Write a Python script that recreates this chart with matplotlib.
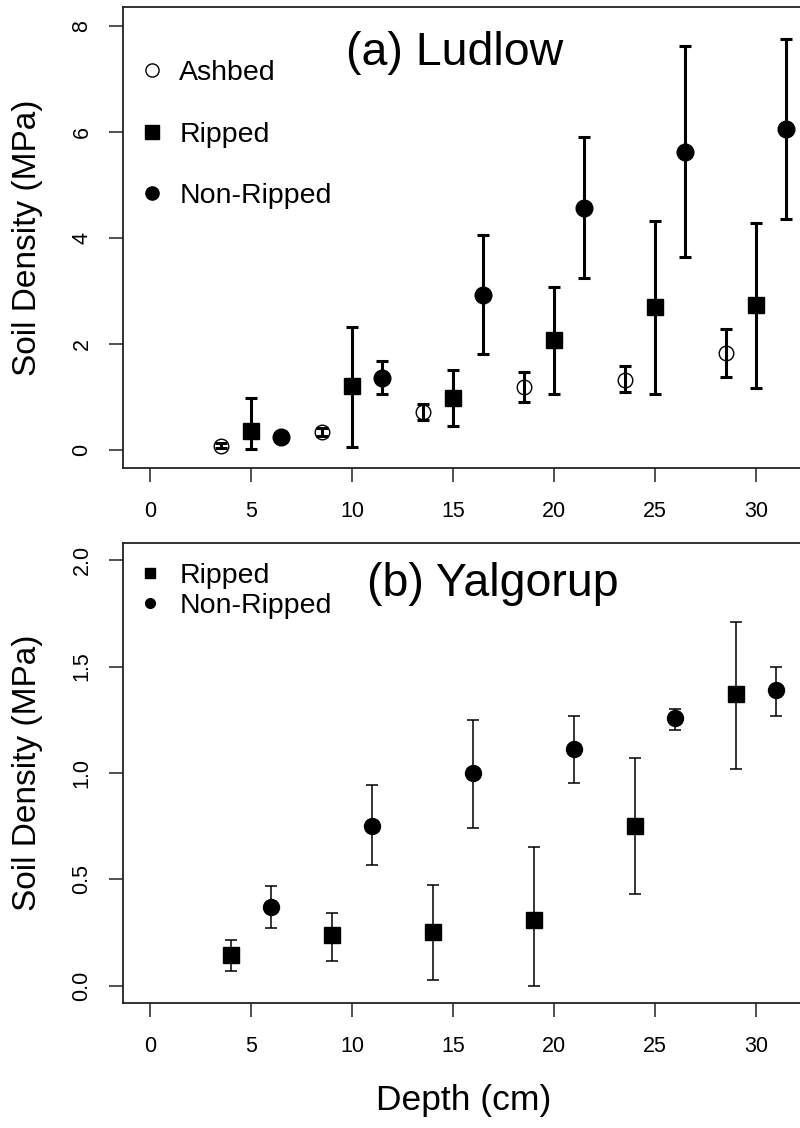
import matplotlib

matplotlib.use("Agg")
import matplotlib.pyplot as plt
import numpy as np
from matplotlib.lines import Line2D
from matplotlib.ticker import FormatStrFormatter

plt.rcParams["font.family"] = ["Liberation Sans", "DejaVu Sans"]

# ----- data -------------------------------------------------------------
# (a) Ludlow
ash_x = [3.5, 8.5, 13.5, 18.5, 23.5, 28.5]
ash_y = [0.08, 0.34, 0.71, 1.19, 1.32, 1.83]
ash_lo = [0.03, 0.26, 0.57, 0.91, 1.10, 1.38]
ash_hi = [0.13, 0.42, 0.86, 1.48, 1.59, 2.29]

rip_a_x = [5, 10, 15, 20, 25, 30]
rip_a_y = [0.36, 1.21, 0.98, 2.08, 2.70, 2.74]
rip_a_lo = [0.02, 0.06, 0.46, 1.06, 1.06, 1.17]
rip_a_hi = [0.98, 2.32, 1.51, 3.08, 4.32, 4.29]

non_a_x = [6.5, 11.5, 16.5, 21.5, 26.5, 31.5]
non_a_y = [0.25, 1.35, 2.92, 4.56, 5.62, 6.05]
non_a_lo = [0.18, 1.06, 1.81, 3.25, 3.64, 4.36]
non_a_hi = [0.32, 1.68, 4.06, 5.90, 7.63, 7.75]

# (b) Yalgorup
rip_b_x = [4, 9, 14, 19, 24, 29]
rip_b_y = [0.146, 0.238, 0.255, 0.31, 0.752, 1.37]
rip_b_lo = [0.069, 0.119, 0.028, 0.0, 0.43, 1.02]
rip_b_hi = [0.216, 0.343, 0.474, 0.652, 1.07, 1.71]

non_b_x = [6, 11, 16, 21, 26, 31]
non_b_y = [0.371, 0.752, 1.0, 1.112, 1.256, 1.388]
non_b_lo = [0.272, 0.566, 0.74, 0.955, 1.20, 1.27]
non_b_hi = [0.469, 0.945, 1.25, 1.27, 1.30, 1.50]

x_ticks = [0, 5, 10, 15, 20, 25, 30]
ya_ticks = [0, 2, 4, 6, 8]
yb_ticks = [0.0, 0.5, 1.0, 1.5, 2.0]
# -------------------------------------------------------------------------

W, H = 800, 1128
fig = plt.figure(figsize=(W / 100, H / 100), dpi=100)


def px_axes(left, top, right, bottom):
    return fig.add_axes([left / W, 1 - bottom / H, (right - left) / W, (bottom - top) / H])


def bars(ax, x, y, lo, hi, lw, cap):
    y = np.asarray(y); lo = np.asarray(lo); hi = np.asarray(hi)
    ax.errorbar(x, y, yerr=[y - lo, hi - y], fmt="none", ecolor="black",
                elinewidth=lw, capsize=cap, capthick=lw, zorder=2)


def style(ax, yticks, fmt):
    ax.set_xticks(x_ticks)
    ax.set_yticks(yticks)
    ax.yaxis.set_major_formatter(FormatStrFormatter(fmt))
    ax.tick_params(axis="both", direction="out", length=10, width=1.1,
                   labelsize=15.5, color="#222222")
    ax.tick_params(axis="x", pad=14)
    ax.tick_params(axis="y", pad=12, labelrotation=90)
    for lab in ax.get_yticklabels():
        lab.set_va("center")
    for sp in ax.spines.values():
        sp.set_linewidth(1.3)
        sp.set_color("#222222")
    ax.set_ylabel("Soil Density (MPa)", fontsize=24, va="center")
    ax.yaxis.set_label_coords((28 - 123) / 682, 0.5)


# ---- (a) Ludlow ----
ax1 = px_axes(123, 7, 805, 468)
ax1.set_xlim(-1.34, 32.42)
ax1.set_ylim(-0.34, 8.36)
bars(ax1, ash_x, ash_y, ash_lo, ash_hi, 2.2, 4.3)
bars(ax1, rip_a_x, rip_a_y, rip_a_lo, rip_a_hi, 2.2, 4.3)
bars(ax1, non_a_x, non_a_y, non_a_lo, non_a_hi, 2.2, 4.3)
ax1.plot(ash_x, ash_y, "o", ms=10.5, mfc="none", mec="black", mew=1.0, ls="none", zorder=3)
ax1.plot(rip_a_x, rip_a_y, "s", ms=11.5, color="black", ls="none", zorder=3)
ax1.plot(non_a_x, non_a_y, "o", ms=12, color="black", ls="none", zorder=3)
style(ax1, ya_ticks, "%d")
ax1.text((455 - 123) / 682, 1 - (53 - 7) / 461, "(a) Ludlow", transform=ax1.transAxes,
         fontsize=33.5, ha="center", va="center")
h_a = [Line2D([], [], marker="o", ls="none", ms=9.5, mfc="none", mec="black", mew=1.0),
       Line2D([], [], marker="s", ls="none", ms=10, color="black"),
       Line2D([], [], marker="o", ls="none", ms=9.5, color="black")]
ax1.legend(h_a, ["Ashbed", "Ripped", "Non-Ripped"], loc="upper left",
           bbox_to_anchor=((145 - 123) / 682, 1 - (60 - 7) / 461), frameon=False,
           fontsize=20.5, handlelength=0.5, handletextpad=0.7, labelspacing=1.25,
           borderpad=0, borderaxespad=0)

# ---- (b) Yalgorup ----
ax2 = px_axes(123, 543, 805, 1003)
ax2.set_xlim(-1.34, 32.42)
ax2.set_ylim(-0.08, 2.08)
bars(ax2, rip_b_x, rip_b_y, rip_b_lo, rip_b_hi, 1.1, 4.3)
bars(ax2, non_b_x, non_b_y, non_b_lo, non_b_hi, 1.1, 4.3)
ax2.plot(rip_b_x, rip_b_y, "s", ms=11.5, color="black", ls="none", zorder=3)
ax2.plot(non_b_x, non_b_y, "o", ms=11.5, color="black", ls="none", zorder=3)
style(ax2, yb_ticks, "%.1f")
ax2.text((493 - 123) / 682, 1 - (584 - 543) / 460, "(b) Yalgorup", transform=ax2.transAxes,
         fontsize=33.5, ha="center", va="center")
h_b = [Line2D([], [], marker="s", ls="none", ms=7, color="black"),
       Line2D([], [], marker="o", ls="none", ms=7, color="black")]
ax2.legend(h_b, ["Ripped", "Non-Ripped"], loc="upper left",
           bbox_to_anchor=((143 - 123) / 682, 1 - (563 - 543) / 460), frameon=False,
           fontsize=20.5, handlelength=0.5, handletextpad=0.8, labelspacing=0.15,
           borderpad=0, borderaxespad=0)
ax2.set_xlabel("Depth (cm)", fontsize=25.5, labelpad=19)

fig.savefig("out.png", dpi=100)
